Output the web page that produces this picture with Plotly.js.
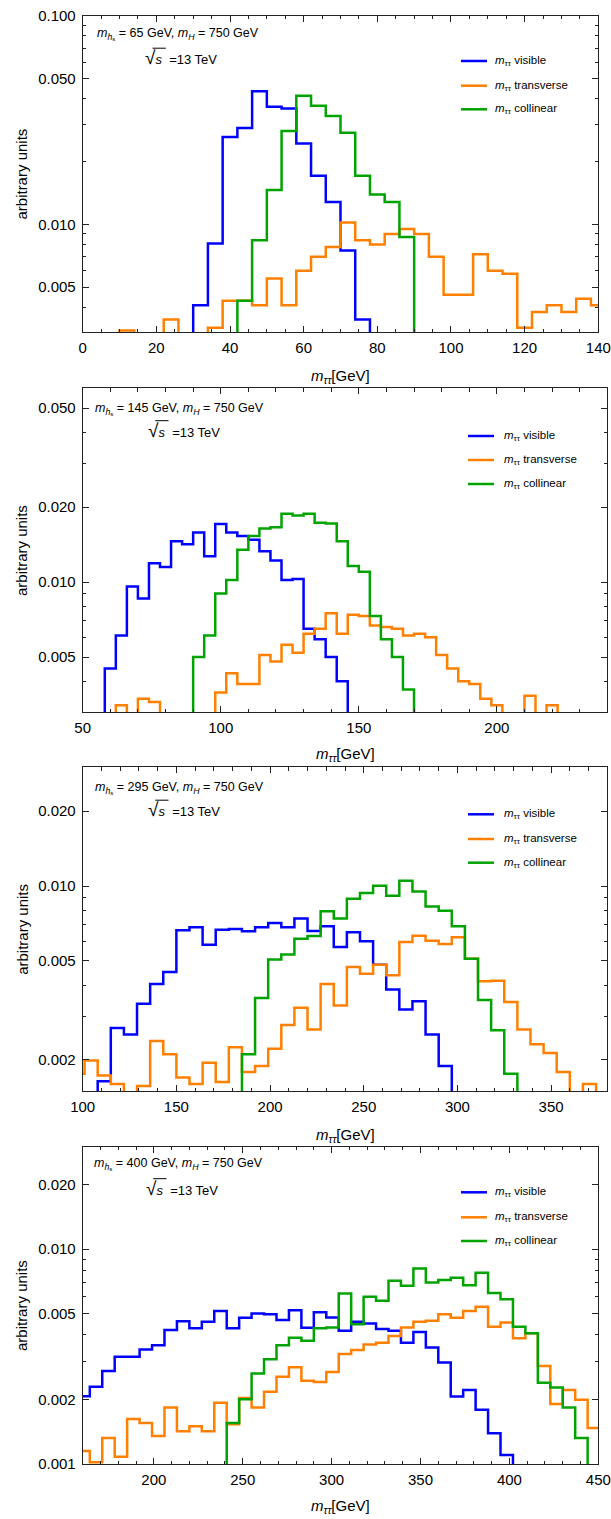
<!DOCTYPE html>
<html><head><meta charset="utf-8">
<script src="https://cdn.plot.ly/plotly-3.0.1.min.js"></script>
<style>html,body{margin:0;padding:0;background:#fff}</style>
</head><body>
<div id="chart" style="width:611px;height:1519px"></div>
<script>
// ---------------- DATA ----------------
// Panel 1: m_hs = 65 GeV ; bins of 4 GeV, first bin lower edge 2 GeV
const p1_mhs = "65";
const p1_binStart = 2, p1_binWidth = 4;
const p1_visible =    [0,0,0,0,0,0,0,0.0041,0.0081,0.0262,0.029,0.0434,0.0366,0.0359,0.0244,0.0171,0.0128,0.0075,0.0035,0,0,0,0,0,0,0,0,0,0,0,0,0,0,0,0];
const p1_transverse = [0,0,0.0031,0,0,0.0035,0,0,0.0032,0.0043,0.0043,0.0041,0.0055,0.0041,0.006,0.007,0.0078,0.0102,0.0084,0.008,0.009,0.0095,0.009,0.007,0.0046,0.0046,0.0072,0.006,0.0058,0.0032,0.0038,0.0041,0.0038,0.0044,0.0041];
const p1_collinear =  [0,0,0,0,0,0,0,0,0,0,0.0043,0.0084,0.0146,0.028,0.0413,0.037,0.0331,0.0275,0.0171,0.0139,0.0128,0.0087,0,0,0,0,0,0,0,0,0,0,0,0,0];
const p1_xrange = [0,140];
const p1_yrange = [0.00305,0.1];
const p1_ytickvals = [0.1,0.05,0.01,0.005];
const p1_yticktext = ["0.100","0.050","0.010","0.005"];

// Panel 2: m_hs = 145 GeV ; bins of 4 GeV, first bin lower edge 50 GeV
const p2_mhs = "145";
const p2_binStart = 50, p2_binWidth = 4;
const p2_visible =    [0,0,0.0045,0.0061,0.0096,0.0086,0.0119,0.0115,0.0146,0.0142,0.0158,0.0127,0.0171,0.0158,0.0153,0.0148,0.0133,0.0122,0.0102,0.0103,0.0065,0.0059,0.0050,0.0040,0,0,0,0,0,0,0,0,0,0,0,0,0,0,0,0,0,0,0,0,0,0,0,0];
const p2_transverse = [0,0,0,0.0032,0,0.0034,0.0033,0,0,0,0,0,0.0036,0.0043,0.0039,0.0039,0.0051,0.0048,0.0056,0.0052,0.0062,0.0065,0.0075,0.0062,0.0074,0.0073,0.0067,0.0066,0.0065,0.0061,0.0062,0.0060,0.0051,0.0045,0.0040,0.0039,0.0034,0.0032,0,0,0.0035,0,0.0032,0,0,0,0,0];
const p2_collinear =  [0,0,0,0,0,0,0,0,0,0,0.0050,0.0061,0.0090,0.0102,0.0135,0.0153,0.0164,0.0166,0.0188,0.0185,0.0188,0.0173,0.0172,0.0146,0.0116,0.0110,0.0073,0.0059,0.0050,0.0037,0,0,0,0,0,0,0,0,0,0,0,0,0,0,0,0,0,0];
const p2_xrange = [50,240];
const p2_yrange = [0.003,0.06];
const p2_ytickvals = [0.05,0.02,0.01,0.005];
const p2_yticktext = ["0.050","0.020","0.010","0.005"];

// Panel 3: m_hs = 295 GeV ; bins of 7 GeV, first bin lower edge 94 GeV
const p3_mhs = "295";
const p3_binStart = 94, p3_binWidth = 7;
const p3_visible =    [0,0,0.00164,0.00269,0.00253,0.00336,0.00404,0.00451,0.00664,0.00683,0.00581,0.00667,0.00672,0.00658,0.00683,0.0071,0.00683,0.00741,0.0066,0.00689,0.00569,0.00652,0.006,0.00483,0.00384,0.00319,0.00344,0.00253,0.00189,0,0,0,0,0,0,0,0,0,0,0,0];
const p3_transverse = [0.00176,0.00199,0.00173,0.0016,0,0.00157,0.00238,0.00211,0.0017,0.0016,0.00195,0.00163,0.00225,0.00179,0.00189,0.00222,0.00276,0.00324,0.00265,0.00404,0.00331,0.00473,0.00444,0.00483,0.00438,0.00596,0.00631,0.00603,0.00585,0.00622,0.0051,0.00414,0.00416,0.00342,0.00265,0.00231,0.00213,0.00179,0,0.0016,0];
const p3_collinear =  [0,0,0,0,0,0,0,0,0,0,0,0,0,0.00211,0.00355,0.00506,0.0053,0.00614,0.0063,0.00791,0.0074,0.00889,0.00937,0.01002,0.00914,0.0105,0.00951,0.00828,0.00796,0.00689,0.0051,0.00348,0.00263,0.00176,0,0,0,0,0,0,0];
const p3_xrange = [100,380];
const p3_yrange = [0.0015,0.03];
const p3_ytickvals = [0.02,0.01,0.005,0.002];
const p3_yticktext = ["0.020","0.010","0.005","0.002"];

// Panel 4: m_hs = 400 GeV ; bins of 7 GeV, first bin lower edge 157 GeV
const p4_mhs = "400";
const p4_binStart = 157, p4_binWidth = 7;
const p4_visible =    [0.00207,0.00229,0.00271,0.00316,0.00316,0.00341,0.00357,0.0042,0.00462,0.00428,0.00459,0.00515,0.00428,0.00479,0.00502,0.00498,0.00468,0.0052,0.00431,0.00508,0.00481,0.00417,0.00459,0.00451,0.00425,0.00417,0.00367,0.00412,0.00349,0.00297,0.00206,0.00221,0.00179,0.00139,0.0011,0,0,0,0,0,0,0];
const p4_transverse = [0.00115,0.00102,0.00132,0.00108,0.00162,0.00155,0.00135,0.00183,0.00142,0.0015,0.00142,0.00193,0.00153,0.00203,0.00183,0.00217,0.00255,0.00282,0.00244,0.00241,0.00268,0.00325,0.00339,0.0036,0.00367,0.00394,0.00432,0.00459,0.00464,0.00498,0.00479,0.00515,0.0054,0.00436,0.00456,0.00385,0.00406,0.00286,0.0019,0.00221,0.00199,0.00147];
const p4_collinear =  [0,0,0,0,0,0,0,0,0,0,0,0,0.00155,0.002,0.00264,0.00307,0.00357,0.00387,0.00375,0.00428,0.00432,0.00622,0.00447,0.006,0.00575,0.00713,0.00675,0.00813,0.007,0.00718,0.00736,0.0068,0.00776,0.00626,0.00585,0.00436,0.00406,0.00239,0.00227,0.00183,0.00132,0];
const p4_xrange = [160,450];
const p4_yrange = [0.001,0.03];
const p4_ytickvals = [0.02,0.01,0.005,0.002,0.001];
const p4_yticktext = ["0.020","0.010","0.005","0.002","0.001"];

const seriesNames = ["visible","transverse","collinear"];
const seriesColors = ["#0000FF","#FF8000","#00A300"];

// ---------------- LAYOUT HELPERS ----------------
const W = 611, H = 1519;
const FONT = "Liberation Sans, Arial, Helvetica, sans-serif";
const FRAME = "#222";

const panels = [
  {vals:[p1_visible,p1_transverse,p1_collinear], start:p1_binStart, bw:p1_binWidth, xr:p1_xrange, yr:p1_yrange, tv:p1_ytickvals, tt:p1_yticktext, mhs:p1_mhs,
   box:{l:82.7,r:598.3,t:15.7,b:332}, xt0:0, xdt:20, xmin:5, info:[95,34.3,143.3,57.5], leg:{x0:461,x1:487,tx:493.3,ys:[61,85.7,109.3]}, xtitleY:376.5},
  {vals:[p2_visible,p2_transverse,p2_collinear], start:p2_binStart, bw:p2_binWidth, xr:p2_xrange, yr:p2_yrange, tv:p2_ytickvals, tt:p2_yticktext, mhs:p2_mhs,
   box:{l:82.7,r:607.3,t:388.3,b:712.3}, xt0:0, xdt:50, xmin:10, info:[92.7,409,146,430], leg:{x0:468,x1:494,tx:501.7,ys:[436,460,484]}, xtitleY:755},
  {vals:[p3_visible,p3_transverse,p3_collinear], start:p3_binStart, bw:p3_binWidth, xr:p3_xrange, yr:p3_yrange, tv:p3_ytickvals, tt:p3_yticktext, mhs:p3_mhs,
   box:{l:82.7,r:607.3,t:767.3,b:1091}, xt0:0, xdt:50, xmin:10, info:[92.7,787.7,146,809.5], leg:{x0:468,x1:494,tx:501.7,ys:[814.3,839,862.7]}, xtitleY:1135},
  {vals:[p4_visible,p4_transverse,p4_collinear], start:p4_binStart, bw:p4_binWidth, xr:p4_xrange, yr:p4_yrange, tv:p4_ytickvals, tt:p4_yticktext, mhs:p4_mhs,
   box:{l:82.7,r:598.3,t:1146.7,b:1464}, xt0:0, xdt:50, xmin:10, info:[91.7,1164.3,144,1188], leg:{x0:461,x1:487,tx:493.3,ys:[1192.3,1217.3,1241]}, xtitleY:1506.7}
];

const px = v => v / W;
const py = v => 1 - v / H;

function minorLogVals(lo, hi, majors){
  const out = [];
  for (let e = -4; e <= 0; e++){
    for (let d = 1; d <= 9; d++){
      const v = +(d * Math.pow(10, e)).toPrecision(3);
      if (v >= lo && v <= hi && !majors.some(m => Math.abs(m - v) < 1e-12)) out.push(v);
    }
  }
  return out;
}

function stepTrace(start, width, vals, color, xa, ya){
  const floor = 1e-6;
  const xs = [start], ys = [floor];
  for (let i = 0; i < vals.length; i++){
    xs.push(start + i * width);
    ys.push(vals[i] > 0 ? vals[i] : floor);
  }
  const last = vals[vals.length - 1] > 0 ? vals[vals.length - 1] : floor;
  xs.push(start + vals.length * width); ys.push(last);
  xs.push(start + vals.length * width); ys.push(floor);
  return {type:"scatter", mode:"lines", x:xs, y:ys, xaxis:xa, yaxis:ya,
          line:{color:color, width:2.5, shape:"hv"}, hoverinfo:"skip", showlegend:false};
}

const traces = [];
const layout = {
  width: W, height: H, margin:{l:0,r:0,t:0,b:0},
  paper_bgcolor:"#fff", plot_bgcolor:"#fff", showlegend:false,
  font:{family:FONT, color:"#000"},
  annotations:[], shapes:[]
};

panels.forEach((p, k) => {
  const n = k === 0 ? "" : String(k + 1);
  const xa = "x" + n, ya = "y" + n;
  p.vals.forEach((v, s) => traces.push(stepTrace(p.start, p.bw, v, seriesColors[s], xa, ya)));

  const common = {showline:true, linecolor:FRAME, linewidth:1, mirror:"allticks", ticks:"inside",
    ticklen:6, tickwidth:1, tickcolor:FRAME, showgrid:false, zeroline:false,
    tickfont:{family:FONT, size:15, color:"#000"}};
  layout["xaxis" + n] = Object.assign({}, common, {
    domain:[px(p.box.l), px(p.box.r)], range:p.xr, anchor:ya,
    tickmode:"linear", tick0:p.xt0, dtick:p.xdt, ticklabelstandoff:2,
    minor:{ticks:"inside", ticklen:3.5, tickwidth:1, tickcolor:FRAME, tickmode:"linear", tick0:0, dtick:p.xmin, showgrid:false}
  });
  layout["yaxis" + n] = Object.assign({}, common, {
    domain:[py(p.box.b), py(p.box.t)], type:"log",
    range:[Math.log10(p.yr[0]), Math.log10(p.yr[1])], anchor:xa,
    tickmode:"array", tickvals:p.tv, ticktext:p.tt, ticklabelstandoff:3,
    minor:{ticks:"inside", ticklen:3.5, tickwidth:1, tickcolor:FRAME, tickmode:"array",
           tickvals:minorLogVals(p.yr[0], p.yr[1], p.tv), showgrid:false}
  });

  // axis titles
  layout.annotations.push({xref:"paper", yref:"paper", x:px(21.7), y:py((p.box.t + p.box.b) / 2),
    text:"arbitrary units", textangle:-90, showarrow:false, xanchor:"center", yanchor:"middle",
    font:{family:FONT, size:15, color:"#000"}});
  layout.annotations.push({xref:"paper", yref:"paper", x:px((p.box.l + p.box.r) / 2), y:py(p.xtitleY),
    text:"<i>m</i><sub><i>ττ</i></sub>[GeV]", showarrow:false, xanchor:"center", yanchor:"middle",
    font:{family:FONT, size:15, color:"#000"}});

  // info text
  layout.annotations.push({xref:"paper", yref:"paper", x:px(p.info[0]), y:py(p.info[1]),
    text:"<i>m</i><sub><i>h</i><sub>s</sub></sub> = " + p.mhs + " GeV, <i>m</i><sub><i>H</i></sub> = 750 GeV",
    showarrow:false, xanchor:"left", yanchor:"middle", font:{family:FONT, size:12.5, color:"#000"}});
  layout.annotations.push({xref:"paper", yref:"paper", x:px(p.info[2]), y:py(p.info[3]),
    text:"<span style='font-size:19px'>√</span><i>s</i>  =13 TeV",
    showarrow:false, xanchor:"left", yanchor:"middle", font:{family:FONT, size:13, color:"#000"}});
  // radical overline
  layout.shapes.push({type:"line", xref:"paper", yref:"paper",
    x0:px(p.info[2] + 9.3), x1:px(p.info[2] + 22.5), y0:py(p.info[3] - 9.3), y1:py(p.info[3] - 9.3),
    line:{color:"#000", width:1}});

  // legend
  seriesNames.forEach((nm, s) => {
    const yy = p.leg.ys[s];
    layout.shapes.push({type:"line", xref:"paper", yref:"paper", x0:px(p.leg.x0), x1:px(p.leg.x1),
      y0:py(yy), y1:py(yy), line:{color:seriesColors[s], width:2.5}});
    layout.annotations.push({xref:"paper", yref:"paper", x:px(p.leg.tx), y:py(yy),
      text:"<i>m</i><sub>ττ</sub> " + nm, showarrow:false, xanchor:"left", yanchor:"middle",
      font:{family:FONT, size:11.5, color:"#000"}});
  });
});

Plotly.newPlot("chart", traces, layout, {staticPlot:true, displayModeBar:false});
</script>
</body></html>
